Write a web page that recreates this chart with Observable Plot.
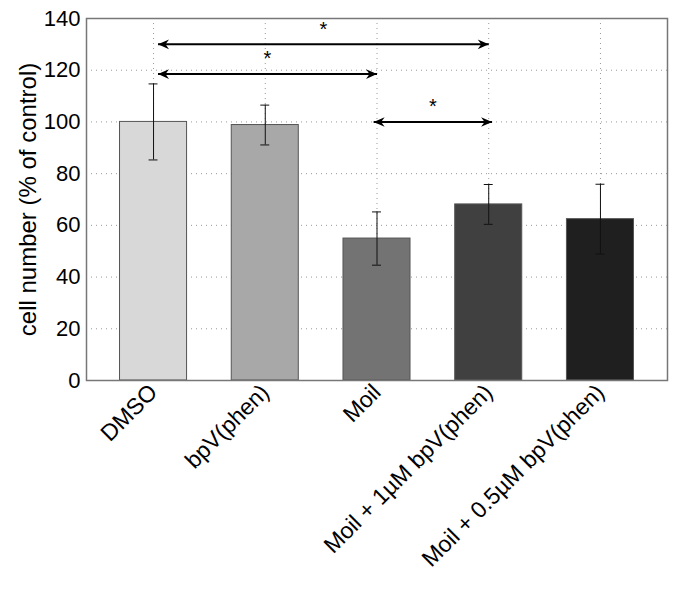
<!DOCTYPE html>
<html>
<head>
<meta charset="utf-8">
<script src="https://cdn.jsdelivr.net/npm/d3@7"></script>
<script src="https://cdn.jsdelivr.net/npm/@observablehq/plot@0.6"></script>
<style>
  html, body { margin: 0; padding: 0; background: #fff; }
</style>
</head>
<body>
<div id="chart"></div>
<script>
// ---- data ----
const categories = ["DMSO", "bpV(phen)", "Moil", "Moil + 1\u00b5M bpV(phen)", "Moil + 0.5\u00b5M bpV(phen)"];
const means = [100, 98.8, 54.9, 68.1, 62.4];
const errors = [14.7, 7.7, 10.3, 7.7, 13.5];
const barColors = ["#d8d8d8", "#a8a8a8", "#737373", "#404040", "#1f1f1f"];
const yTicks = [0, 20, 40, 60, 80, 100, 120, 140];
const yLabel = "cell number (% of control)";
// significance comparisons (x positions in group units, y level in %)
const compFrom = [1.04, 1.04, 2.97];
const compTo = [4.0, 3.0, 4.03];
const compY = [130, 118.5, 100];
const compLabel = ["*", "*", "*"];

const groups = categories.map((c, k) => ({
  i: k + 1, name: c, mean: means[k], err: errors[k], color: barColors[k]
}));
const comps = compFrom.map((f, k) => ({from: f, to: compTo[k], y: compY[k], label: compLabel[k]}));

const BAR_HALF = 0.3;   // bar half width (group units)
const CAP_HALF = 0.04;  // error-bar cap half width

const headRight = {draw(ctx) { ctx.moveTo(0, 0); ctx.lineTo(-11, -4.8); ctx.lineTo(-7.5, 0); ctx.lineTo(-11, 4.8); ctx.closePath(); }};
const headLeft = {draw(ctx) { ctx.moveTo(0, 0); ctx.lineTo(11, -4.8); ctx.lineTo(7.5, 0); ctx.lineTo(11, 4.8); ctx.closePath(); }};

const chart = Plot.plot({
  width: 685,
  height: 589,
  marginLeft: 86,
  marginRight: 18,
  marginTop: 18,
  marginBottom: 209,
  style: {fontFamily: "'Liberation Sans', Arial, Helvetica, sans-serif", background: "#fff", color: "#000"},
  x: {domain: [0.4, 5.6]},
  y: {domain: [0, 140]},
  marks: [
    Plot.ruleY(yTicks.slice(1, -1), {stroke: "#999", strokeDasharray: "1,4", strokeWidth: 1}),
    Plot.ruleX(groups, {x: "i", stroke: "#999", strokeDasharray: "1,4", strokeWidth: 1}),
    Plot.rectY(groups, {x1: d => d.i - BAR_HALF, x2: d => d.i + BAR_HALF, y1: 0, y2: "mean", fill: "color", stroke: "#555", strokeWidth: 1}),
    Plot.ruleX(groups, {x: "i", y1: d => d.mean - d.err, y2: d => d.mean + d.err, stroke: "#111", strokeWidth: 1}),
    Plot.ruleY(groups, {y: d => d.mean + d.err, x1: d => d.i - CAP_HALF, x2: d => d.i + CAP_HALF, stroke: "#111", strokeWidth: 1}),
    Plot.ruleY(groups, {y: d => d.mean - d.err, x1: d => d.i - CAP_HALF, x2: d => d.i + CAP_HALF, stroke: "#111", strokeWidth: 1}),
    Plot.frame({stroke: "#777", strokeWidth: 1.5}),
    Plot.axisY({ticks: yTicks, tickSize: 0, tickPadding: 6, fontSize: 22, label: null}),
    Plot.axisX({ticks: groups.map(d => d.i), tickFormat: i => categories[i - 1], tickRotate: -45, tickSize: 0, tickPadding: 8, fontSize: 23, label: null}),
    Plot.text([yLabel], {text: d => d, frameAnchor: "left", rotate: -90, dx: -58, fontSize: 24, lineAnchor: "middle", textAnchor: "middle", fill: "#000"}),
    Plot.link(comps, {x1: "from", x2: "to", y1: "y", y2: "y", stroke: "#000", strokeWidth: 2}),
    Plot.dot(comps, {x: "from", y: "y", symbol: headLeft, fill: "#000", stroke: "none", r: 5}),
    Plot.dot(comps, {x: "to", y: "y", symbol: headRight, fill: "#000", stroke: "none", r: 5}),
    Plot.text(comps, {x: d => (d.from + d.to) / 2, y: "y", text: "label", dy: -15, fontSize: 20, lineAnchor: "middle", fill: "#000"})
  ]
});
document.getElementById("chart").appendChild(chart);
</script>
</body>
</html>
